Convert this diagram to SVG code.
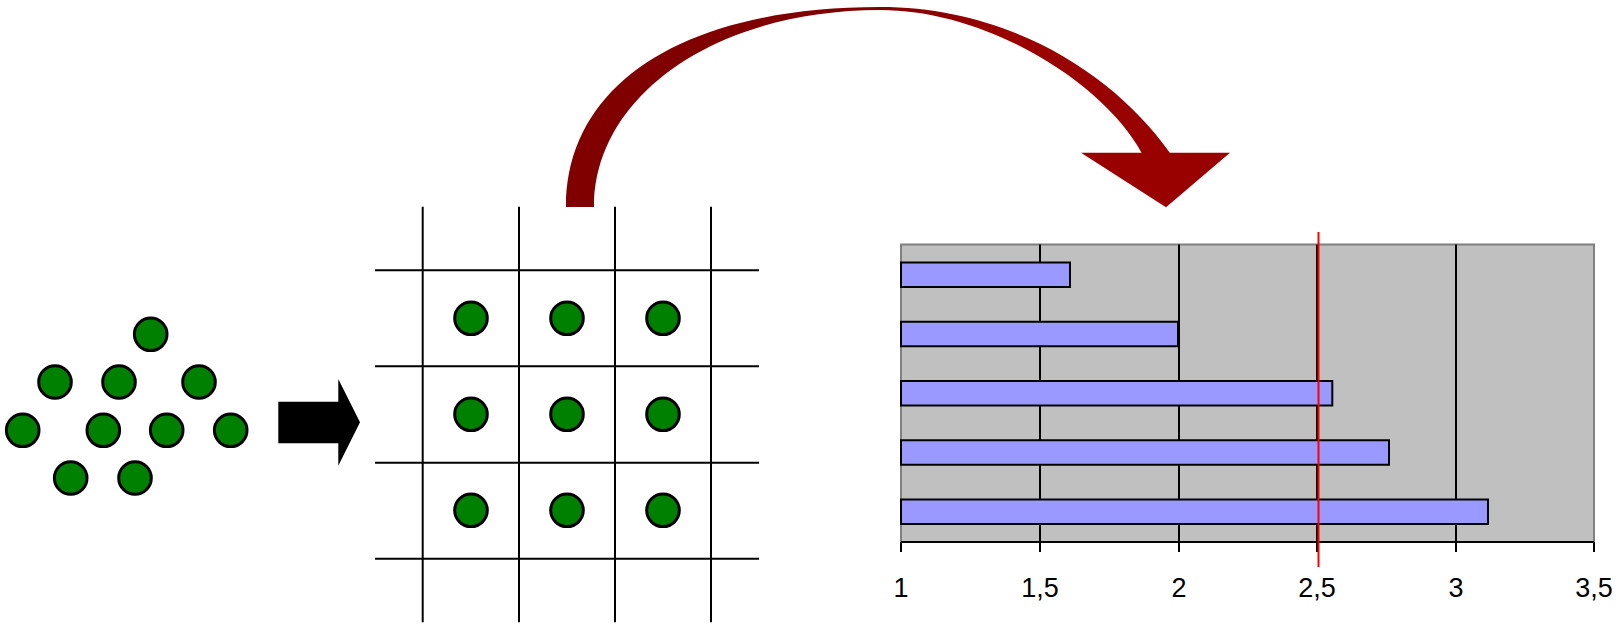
<svg xmlns="http://www.w3.org/2000/svg" width="1623" height="627" viewBox="0 0 1623 627">
<style>
.dot{fill:#008000;stroke:#000;stroke-width:3}
.gl{stroke:#000;stroke-width:2;fill:none}
.bar{fill:#9999FF;stroke:#000;stroke-width:2}
.lbl{font-family:"Liberation Sans",Arial,sans-serif;font-size:27px;fill:#000;text-anchor:middle}
</style>
<defs>
<linearGradient id="rg" x1="566" y1="0" x2="1231" y2="0" gradientUnits="userSpaceOnUse">
<stop offset="0" stop-color="#800000"/>
<stop offset="0.45" stop-color="#800000"/>
<stop offset="0.65" stop-color="#990000"/>
<stop offset="1" stop-color="#990000"/>
</linearGradient>
</defs>
<rect width="1623" height="627" fill="#fff"/>

<g id="cluster">
<circle class="dot" cx="150.7" cy="334.3" r="16.3"/>
<circle class="dot" cx="55" cy="382" r="16.3"/>
<circle class="dot" cx="119" cy="382" r="16.3"/>
<circle class="dot" cx="199" cy="382" r="16.3"/>
<circle class="dot" cx="22.7" cy="430.3" r="16.3"/>
<circle class="dot" cx="103.3" cy="430.3" r="16.3"/>
<circle class="dot" cx="166.7" cy="430.3" r="16.3"/>
<circle class="dot" cx="230.7" cy="430.3" r="16.3"/>
<circle class="dot" cx="70.7" cy="478" r="16.3"/>
<circle class="dot" cx="135" cy="478" r="16.3"/>
</g>

<g id="grid">
<line class="gl" x1="422.7" y1="206.7" x2="422.7" y2="622.3"/>
<line class="gl" x1="519" y1="206.7" x2="519" y2="622.3"/>
<line class="gl" x1="615" y1="206.7" x2="615" y2="622.3"/>
<line class="gl" x1="711" y1="206.7" x2="711" y2="622.3"/>
<line class="gl" x1="375" y1="270.3" x2="759" y2="270.3"/>
<line class="gl" x1="375" y1="366.3" x2="759" y2="366.3"/>
<line class="gl" x1="375" y1="462.7" x2="759" y2="462.7"/>
<line class="gl" x1="375" y1="558.7" x2="759" y2="558.7"/>
<circle class="dot" cx="471" cy="318.3" r="16.3"/>
<circle class="dot" cx="567" cy="318.3" r="16.3"/>
<circle class="dot" cx="663" cy="318.3" r="16.3"/>
<circle class="dot" cx="471" cy="414.3" r="16.3"/>
<circle class="dot" cx="567" cy="414.3" r="16.3"/>
<circle class="dot" cx="663" cy="414.3" r="16.3"/>
<circle class="dot" cx="471" cy="510.3" r="16.3"/>
<circle class="dot" cx="567" cy="510.3" r="16.3"/>
<circle class="dot" cx="663" cy="510.3" r="16.3"/>
</g>

<g id="chart">
<rect x="901" y="244.5" width="693" height="297.5" fill="#C0C0C0"/>
<path d="M901 542 V244.5 H1594 V542" fill="none" stroke="#808080" stroke-width="2"/>
<line class="gl" x1="1040" y1="244.5" x2="1040" y2="552"/>
<line class="gl" x1="1179" y1="244.5" x2="1179" y2="552"/>
<line class="gl" x1="1317" y1="244.5" x2="1317" y2="552"/>
<line class="gl" x1="1456" y1="244.5" x2="1456" y2="552"/>
<line class="gl" x1="901" y1="542" x2="1594" y2="542"/>
<line class="gl" x1="901" y1="542" x2="901" y2="552"/>
<line class="gl" x1="1594" y1="542" x2="1594" y2="552"/>
<rect class="bar" x="901" y="262.5" width="169" height="24.5"/>
<rect class="bar" x="901" y="321.75" width="277" height="24.5"/>
<rect class="bar" x="901" y="381" width="431.3" height="24.5"/>
<rect class="bar" x="901" y="440.25" width="488" height="24.5"/>
<rect class="bar" x="901" y="499.5" width="587" height="24.5"/>
<line x1="1318.5" y1="232" x2="1318.5" y2="567" stroke="#FF0000" stroke-width="2"/>
<text class="lbl" x="901" y="597">1</text>
<text class="lbl" x="1040" y="597">1,5</text>
<text class="lbl" x="1179" y="597">2</text>
<text class="lbl" x="1317" y="597">2,5</text>
<text class="lbl" x="1456" y="597">3</text>
<text class="lbl" x="1594" y="597">3,5</text>
</g>

<g id="connectors">
<polygon id="black-arrow" points="278.3,401.7 338.3,401.7 338.3,379 360,422.3 338.3,465.7 338.3,443.3 278.3,443.3" fill="#000"/>
<g id="red-arrow">
<path d="M566 207 C566 83 685 7 880 7 C1010 7 1115 75 1170 153 L1141.7 153 C1105 85 990 10 880 10 C717 10 594 95 594 207 Z" fill="url(#rg)"/>
<polygon points="1081,152.7 1230,152.7 1166,207.3" fill="#990000"/>
</g>
</g>
</svg>
